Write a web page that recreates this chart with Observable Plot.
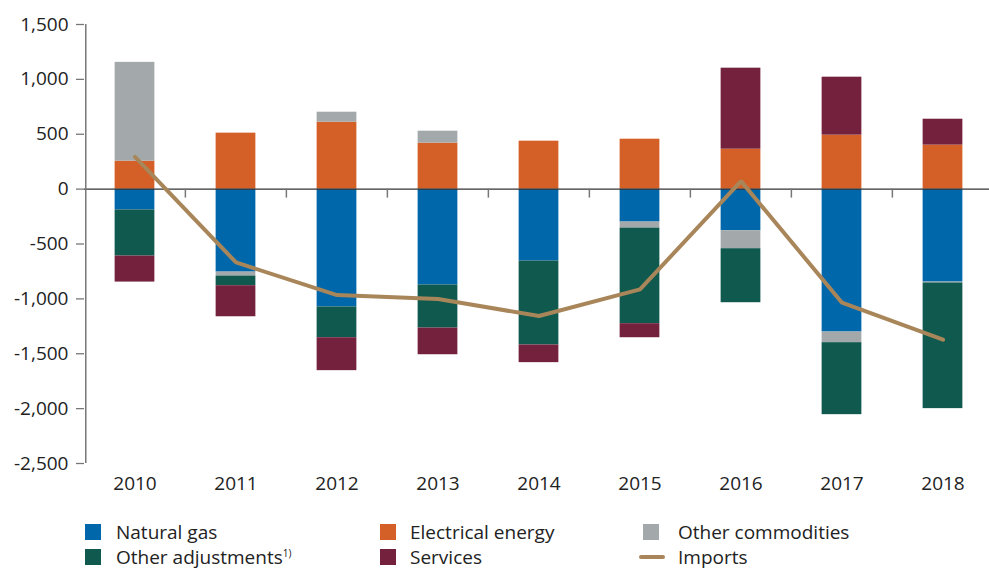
<!DOCTYPE html>
<html>
<head>
<meta charset="utf-8">
<script src="https://cdn.jsdelivr.net/npm/d3@7"></script>
<script src="https://cdn.jsdelivr.net/npm/@observablehq/plot@0.6"></script>
<style>
  html, body { margin: 0; padding: 0; background: #fff; }
  body { width: 989px; height: 570px; overflow: hidden; font-family: "Open Sans", sans-serif; color: #222; }
  #chart svg { display: block; }
  #legend { position: relative; height: 70px; font-size: 19px; color: #222; }
  .sw { position: absolute; }
  .lbl { position: absolute; line-height: 25px; white-space: nowrap; }
  sup { font-size: 10px; vertical-align: 0; position: relative; top: -7px; }
</style>
</head>
<body>
<div id="chart"></div>
<div id="legend"></div>
<script>
const years = ["2010","2011","2012","2013","2014","2015","2016","2017","2018"];
const seriesNames = ["Natural gas","Electrical energy","Other commodities","Other adjustments","Services"];
const naturalGas       = [-190, -756, -1074, -874, -656, -300, -379, -1302, -847];
const electricalEnergy = [255, 510, 610, 419, 437, 455, 364, 492, 401];
const otherCommodities = [900, -36, 91, 109, 0, -55, -164, -97, -8];
const otherAdjustments = [-420, -88, -280, -392, -764, -871, -492, -656, -1145];
const services         = [-237, -283, -300, -243, -161, -128, 738, 528, 236];
const imports          = [294, -668, -965, -1002, -1156, -913, 73, -1035, -1372];
const yTicks = [-2500, -2000, -1500, -1000, -500, 0, 500, 1000, 1500];
const colors = ["#0067aa", "#d45f27", "#a3a9ab", "#10594e", "#74213e"];
const importsColor = "#a8865a";

const seriesValues = [naturalGas, electricalEnergy, otherCommodities, otherAdjustments, services];
const table = [];
seriesNames.forEach((s, i) => years.forEach((y, j) => table.push({series: s, year: y, value: seriesValues[i][j]})));
const importsData = years.map((y, j) => ({year: y, value: imports[j]}));

const fmt = d3.formatLocale({decimal: ".", thousands: ",", grouping: [3], currency: ["", ""], minus: "-"}).format(",");

const xRange = [82.6, 993.9];
const step = (xRange[1] - xRange[0]) / years.length;
const barW = 40;

const plot = Plot.plot({
  width: 989,
  height: 500,
  marginTop: 24,
  marginBottom: 37,
  marginLeft: 84,
  marginRight: 0,
  style: {fontFamily: "Open Sans, sans-serif", fontSize: "19px", color: "#222", overflow: "hidden"},
  x: {domain: years, range: xRange, padding: 0, label: null},
  y: {domain: [-2500, 1500], label: null},
  color: {domain: seriesNames, range: colors},
  marks: [
    Plot.barY(table, {x: "year", y: "value", fill: "series", insetLeft: (step - barW) / 2, insetRight: (step - barW) / 2}),
    Plot.ruleY([0], {stroke: "#333", strokeWidth: 1.3}),
    Plot.ruleX(years.slice(1), {x: d => d, dx: -step / 2, y1: 0, y2: -82, stroke: "#777", strokeWidth: 1.5}),
    Plot.ruleX([years[0]], {x: d => d, dx: -step / 2 + 1.4, stroke: "#777", strokeWidth: 1.5}),
    Plot.axisY({ticks: yTicks, tickFormat: fmt, tickSize: 8, tickPadding: 8, stroke: "#777", strokeWidth: 1.3, fontSize: 19}),
    Plot.axisX({tickSize: 0, tickPadding: 13, fontSize: 19}),
    Plot.line(importsData, {x: "year", y: "value", stroke: importsColor, strokeWidth: 4, strokeLinejoin: "miter"})
  ]
});
document.getElementById("chart").appendChild(plot);

// Legend
const legendItems = [
  {name: "Natural gas", type: "sq", color: colors[0], col: 0, row: 0},
  {name: "Electrical energy", type: "sq", color: colors[1], col: 1, row: 0},
  {name: "Other commodities", type: "sq", color: colors[2], col: 2, row: 0},
  {name: "Other adjustments", sup: "1)", type: "sq", color: colors[3], col: 0, row: 1},
  {name: "Services", type: "sq", color: colors[4], col: 1, row: 1},
  {name: "Imports", type: "line", color: importsColor, col: 2, row: 1}
];
const colSwatch = [85, 380, 643];
const colText = [116, 410, 678];
const rowTop = [19.5, 44.5];
const legend = document.getElementById("legend");
legendItems.forEach(it => {
  const sw = document.createElement("div");
  sw.className = "sw";
  if (it.type === "sq") {
    sw.style.cssText = `left:${colSwatch[it.col]}px;top:${rowTop[it.row] + 4.5}px;width:16px;height:16px;background:${it.color}`;
  } else {
    sw.style.cssText = `left:${colSwatch[it.col] - 4}px;top:${rowTop[it.row] + 10.5}px;width:26px;height:4px;border-radius:2px;background:${it.color}`;
  }
  legend.appendChild(sw);
  const lb = document.createElement("div");
  lb.className = "lbl";
  lb.style.left = colText[it.col] + "px";
  lb.style.top = rowTop[it.row] + "px";
  lb.textContent = it.name;
  if (it.sup) { const s = document.createElement("sup"); s.textContent = it.sup; lb.appendChild(s); }
  legend.appendChild(lb);
});
</script>
</body>
</html>
